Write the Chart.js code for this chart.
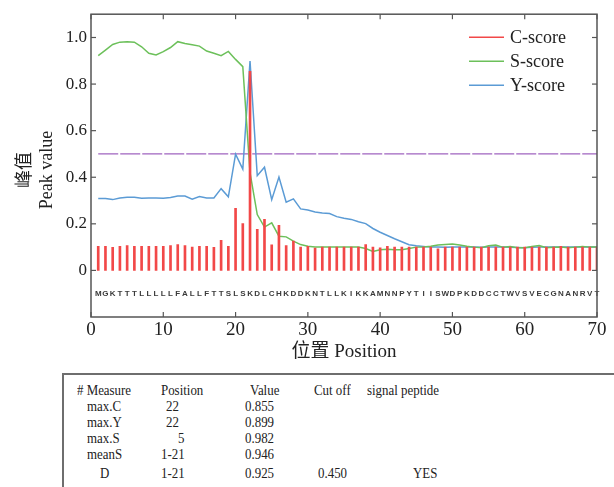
<!DOCTYPE html>
<html><head><meta charset="utf-8">
<script src="https://cdn.jsdelivr.net/npm/chart.js@4/dist/chart.umd.min.js"></script>
<style>
html,body{margin:0;padding:0;background:#fff;width:614px;height:487px;overflow:hidden;position:relative;font-family:'Liberation Serif','Times New Roman',serif;}
#wrap{position:absolute;left:0;top:0;width:614px;height:370px;}
#tbl{position:absolute;left:62px;top:373px;width:620px;height:140px;border:2px solid #6e6e6e;box-sizing:border-box;background:#fff;}
.c{position:absolute;font-size:15px;line-height:15px;color:#222;white-space:nowrap;transform:scaleX(0.86);transform-origin:0 0;}
</style></head>
<body>
<div id="wrap"><canvas id="c" width="614" height="370"></canvas></div>
<div id="tbl"></div>
<script>
// ---- data ----
const residues = ['M','G','K','T','T','T','L','L','L','L','L','F','A','L','L','F','T','T','S','L','S','K','D','L','C','H','K','D','D','K','N','T','L','L','K','I','K','K','A','M','N','N','P','Y','T','I','I','S','W','D','P','K','D','D','C','C','T','W','V','S','V','E','C','G','N','A','N','R','V','T'];
const cScore = [0.103,0.103,0.099,0.103,0.107,0.103,0.103,0.103,0.103,0.103,0.107,0.111,0.107,0.100,0.103,0.103,0.099,0.129,0.103,0.267,0.201,0.855,0.176,0.219,0.110,0.194,0.107,0.126,0.100,0.103,0.096,0.100,0.100,0.100,0.100,0.100,0.100,0.111,0.100,0.097,0.103,0.100,0.100,0.100,0.100,0.100,0.100,0.093,0.100,0.100,0.100,0.100,0.100,0.100,0.100,0.100,0.100,0.100,0.100,0.100,0.100,0.100,0.100,0.100,0.103,0.100,0.100,0.100,0.100,0.100];
const sScore = [0.922,0.946,0.970,0.980,0.982,0.980,0.960,0.932,0.925,0.939,0.957,0.982,0.974,0.969,0.963,0.942,0.932,0.922,0.940,0.906,0.875,0.420,0.240,0.186,0.204,0.147,0.144,0.126,0.111,0.104,0.101,0.101,0.101,0.100,0.100,0.100,0.100,0.094,0.081,0.089,0.091,0.089,0.089,0.094,0.100,0.101,0.104,0.109,0.111,0.113,0.109,0.104,0.100,0.097,0.106,0.109,0.099,0.103,0.097,0.097,0.103,0.107,0.097,0.099,0.100,0.097,0.100,0.103,0.100,0.100];
const yScore = [0.309,0.309,0.304,0.311,0.314,0.314,0.310,0.311,0.311,0.310,0.313,0.319,0.319,0.306,0.317,0.311,0.311,0.351,0.316,0.499,0.435,0.899,0.407,0.443,0.304,0.401,0.293,0.307,0.264,0.259,0.251,0.247,0.244,0.231,0.224,0.219,0.209,0.201,0.180,0.164,0.150,0.136,0.123,0.110,0.106,0.103,0.100,0.100,0.099,0.101,0.100,0.100,0.100,0.099,0.100,0.101,0.100,0.099,0.098,0.097,0.099,0.100,0.100,0.100,0.101,0.100,0.100,0.101,0.100,0.101];
const cutoff = 0.5;
const cutoffRange = [1, 70];
const residueRow = -0.1;
const xTicks = [0,10,20,30,40,50,60,70];
const yTicks = [0,0.2,0.4,0.6,0.8,1.0];
const seriesNames = ['C-score','S-score','Y-score'];
const seriesColors = ['#f24848','#6cc05a','#5b9bd5'];
const cutoffColor = '#a064c0';
const yTitle = ['峰值','Peak value'];
const xTitle = '位置 Position';
const tableHeader = ['# Measure','Position','Value','Cut off','signal peptide'];
const tableRows = [
  ['max.C','22','0.855','',''],
  ['max.Y','22','0.899','',''],
  ['max.S','5','0.982','',''],
  ['meanS','1-21','0.946','',''],
  ['D','1-21','0.925','0.450','YES']
];

// ---- chart ----
const pts = arr => arr.map((v,i)=>({x:i+1,y:v}));
Chart.defaults.font.family = "'Liberation Serif','Times New Roman','Noto Sans CJK SC',serif";
Chart.defaults.color = '#222';

const decor = {
  id:'decor',
  afterDraw(chart){
    const {ctx, chartArea:a, scales:{x,y}} = chart;
    const line=(x1,y1,x2,y2)=>{ctx.beginPath();ctx.moveTo(x1,y1);ctx.lineTo(x2,y2);ctx.stroke();};
    ctx.save();
    // residue letters
    ctx.font = 'bold 8px "Liberation Sans", Arial, sans-serif';
    ctx.fillStyle = '#3a3a3a'; ctx.textAlign='center'; ctx.textBaseline='middle';
    residues.forEach((r,i)=>ctx.fillText(r, x.getPixelForValue(i+1), y.getPixelForValue(residueRow)));
    // frame
    ctx.strokeStyle = '#555'; ctx.lineWidth = 1.5;
    ctx.strokeRect(a.left, a.top, a.right-a.left, a.bottom-a.top);
    // inward ticks
    ctx.lineWidth = 1.2;
    xTicks.forEach(v=>{const px=x.getPixelForValue(v); line(px,a.bottom,px,a.bottom-5); line(px,a.top,px,a.top+5);});
    yTicks.forEach(v=>{const py=y.getPixelForValue(v); line(a.left,py,a.left+5,py); line(a.right,py,a.right-5,py);});
    // legend
    ctx.font = "18px 'Liberation Serif', serif";
    ctx.textAlign='left'; ctx.textBaseline='middle';
    seriesNames.forEach((n,i)=>{
      const ly = a.top + 23 + i*24;
      ctx.strokeStyle = seriesColors[i]; ctx.lineWidth = 1.5;
      line(a.right-128, ly, a.right-93, ly);
      ctx.fillStyle = '#222';
      ctx.fillText(n, a.right-87, ly+1);
    });
    // axis titles
    ctx.fillStyle = '#222';
    ctx.font = "19px 'Liberation Serif','Noto Sans CJK SC', serif";
    ctx.textAlign='center'; ctx.textBaseline='middle';
    ctx.fillText(xTitle, (a.left+a.right)/2, 352);
    ctx.font = "18px 'Liberation Serif','Noto Sans CJK SC', serif";
    [25,47].forEach((cx,i)=>{
      ctx.save(); ctx.translate(cx, 170); ctx.rotate(-Math.PI/2);
      ctx.fillText(yTitle[i], 0, 0); ctx.restore();
    });
    ctx.restore();
  }
};

new Chart(document.getElementById('c'), {
  data: {
    datasets: [
      {type:'line', label:'Cut off', data:[{x:cutoffRange[0],y:cutoff},{x:cutoffRange[1],y:cutoff}], borderColor:cutoffColor, borderWidth:1.3, borderDash:[20,2], pointRadius:0, order:4},
      {type:'line', label:seriesNames[1], data:pts(sScore), borderColor:seriesColors[1], borderWidth:1.5, pointRadius:0, tension:0, order:2},
      {type:'line', label:seriesNames[2], data:pts(yScore), borderColor:seriesColors[2], borderWidth:1.5, pointRadius:0, tension:0, order:3},
      {type:'bar', label:seriesNames[0], data:pts(cScore), backgroundColor:seriesColors[0], barThickness:2, order:1}
    ]
  },
  options: {
    responsive:false, animation:false,
    layout:{padding:{top:10,right:17,left:0,bottom:0}},
    plugins:{legend:{display:false}, tooltip:{enabled:false}},
    scales:{
      x:{type:'linear', min:0, max:70, offset:false,
         afterBuildTicks:s=>{s.ticks = xTicks.map(v=>({value:v}));},
         afterFit:s=>{s.height = 53;},
         grid:{display:false, drawTicks:false, offset:false}, border:{display:false},
         ticks:{font:{size:19}, padding:2, maxRotation:0, color:'#222'}},
      y:{type:'linear', min:-0.2, max:1.1,
         afterBuildTicks:s=>{s.ticks = yTicks.map(v=>({value:v}));},
         afterFit:s=>{s.width = 91;},
         grid:{display:false, drawTicks:false}, border:{display:false},
         ticks:{font:{size:17}, padding:4, color:'#222', callback:v=> v===0 ? '0' : v.toFixed(1)}}
    }
  },
  plugins:[decor]
});

// ---- table ----
const colX = [77,161,250,314,367];
const rowColX = [[87,166,245,318,413],[87,166,245,318,413],[87,178,245,318,413],[87,161,245,318,413],[100,161,245,318,413]];
const rowTop = [399,415,431,447,466];
function cell(t,x,y){const s=document.createElement('span');s.className='c';s.textContent=t;s.style.left=x+'px';s.style.top=y+'px';document.body.appendChild(s);}
tableHeader.forEach((t,i)=>cell(t,colX[i],383));
tableRows.forEach((r,ri)=>r.forEach((t,i)=>{ if(t) cell(t,rowColX[ri][i],rowTop[ri]); }));
</script>
</body></html>
